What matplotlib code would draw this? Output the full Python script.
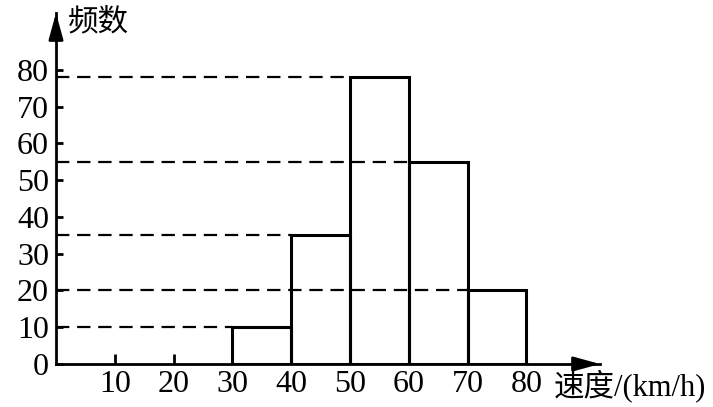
import matplotlib
matplotlib.use("Agg")
import matplotlib.pyplot as plt

# histogram data
bin_left = [30, 40, 50, 60, 70]
counts = [10, 35, 78, 55, 20]
bin_width = 10
xtick_vals = [10, 20, 30, 40, 50, 60, 70, 80]
ytick_vals = [0, 10, 20, 30, 40, 50, 60, 70, 80]

plt.rcParams['font.family'] = ['Liberation Serif', 'Noto Sans CJK SC']

fig = plt.figure(figsize=(7.13, 4.07), dpi=100)
ax = fig.add_axes([56 / 713, 43 / 407, 544 / 713, 351 / 407])
ax.set_xlim(0, 92.5)
ax.set_ylim(0, 95.5)

for s in ['top', 'right']:
    ax.spines[s].set_visible(False)
for s in ['left', 'bottom']:
    ax.spines[s].set_linewidth(2)

# arrow heads on the axes
ax.annotate('', xy=(1.0, 0), xytext=(0.95, 0), xycoords='axes fraction',
            arrowprops=dict(arrowstyle='-|>,head_length=0.8,head_width=0.22',
                            mutation_scale=20, color='black', lw=2, shrinkA=0, shrinkB=0))
ax.annotate('', xy=(0, 1.0), xytext=(0, 0.95), xycoords='axes fraction',
            arrowprops=dict(arrowstyle='-|>,head_length=0.8,head_width=0.22',
                            mutation_scale=20, color='black', lw=2, shrinkA=0, shrinkB=0))

# dashed guides from the y axis to each bar
for left, c in zip(bin_left, counts):
    ax.plot([0, left], [c, c], color='black', lw=1.6, dashes=(6, 3.5), zorder=2)

ax.bar(bin_left, counts, width=bin_width, align='edge', fill=False,
       edgecolor='black', linewidth=2.2, zorder=3)

ax.set_xticks(xtick_vals)
ax.set_xticklabels([str(v) for v in xtick_vals])
ax.set_yticks(ytick_vals)
ax.set_yticklabels([str(v) for v in ytick_vals])
ax.tick_params(axis='x', direction='in', length=7, width=2, pad=4, labelsize=23)
ax.tick_params(axis='y', direction='in', length=5, width=2, pad=5, labelsize=23)

ax.text(2.0, 93, '频数', fontsize=22, ha='left', va='center', clip_on=False,
        family=['Noto Sans CJK SC'])
ax.text(84.7, -6.0, '速度/(km/h)', fontsize=22, ha='left', va='center', clip_on=False)

fig.savefig('out.png', dpi=100)
